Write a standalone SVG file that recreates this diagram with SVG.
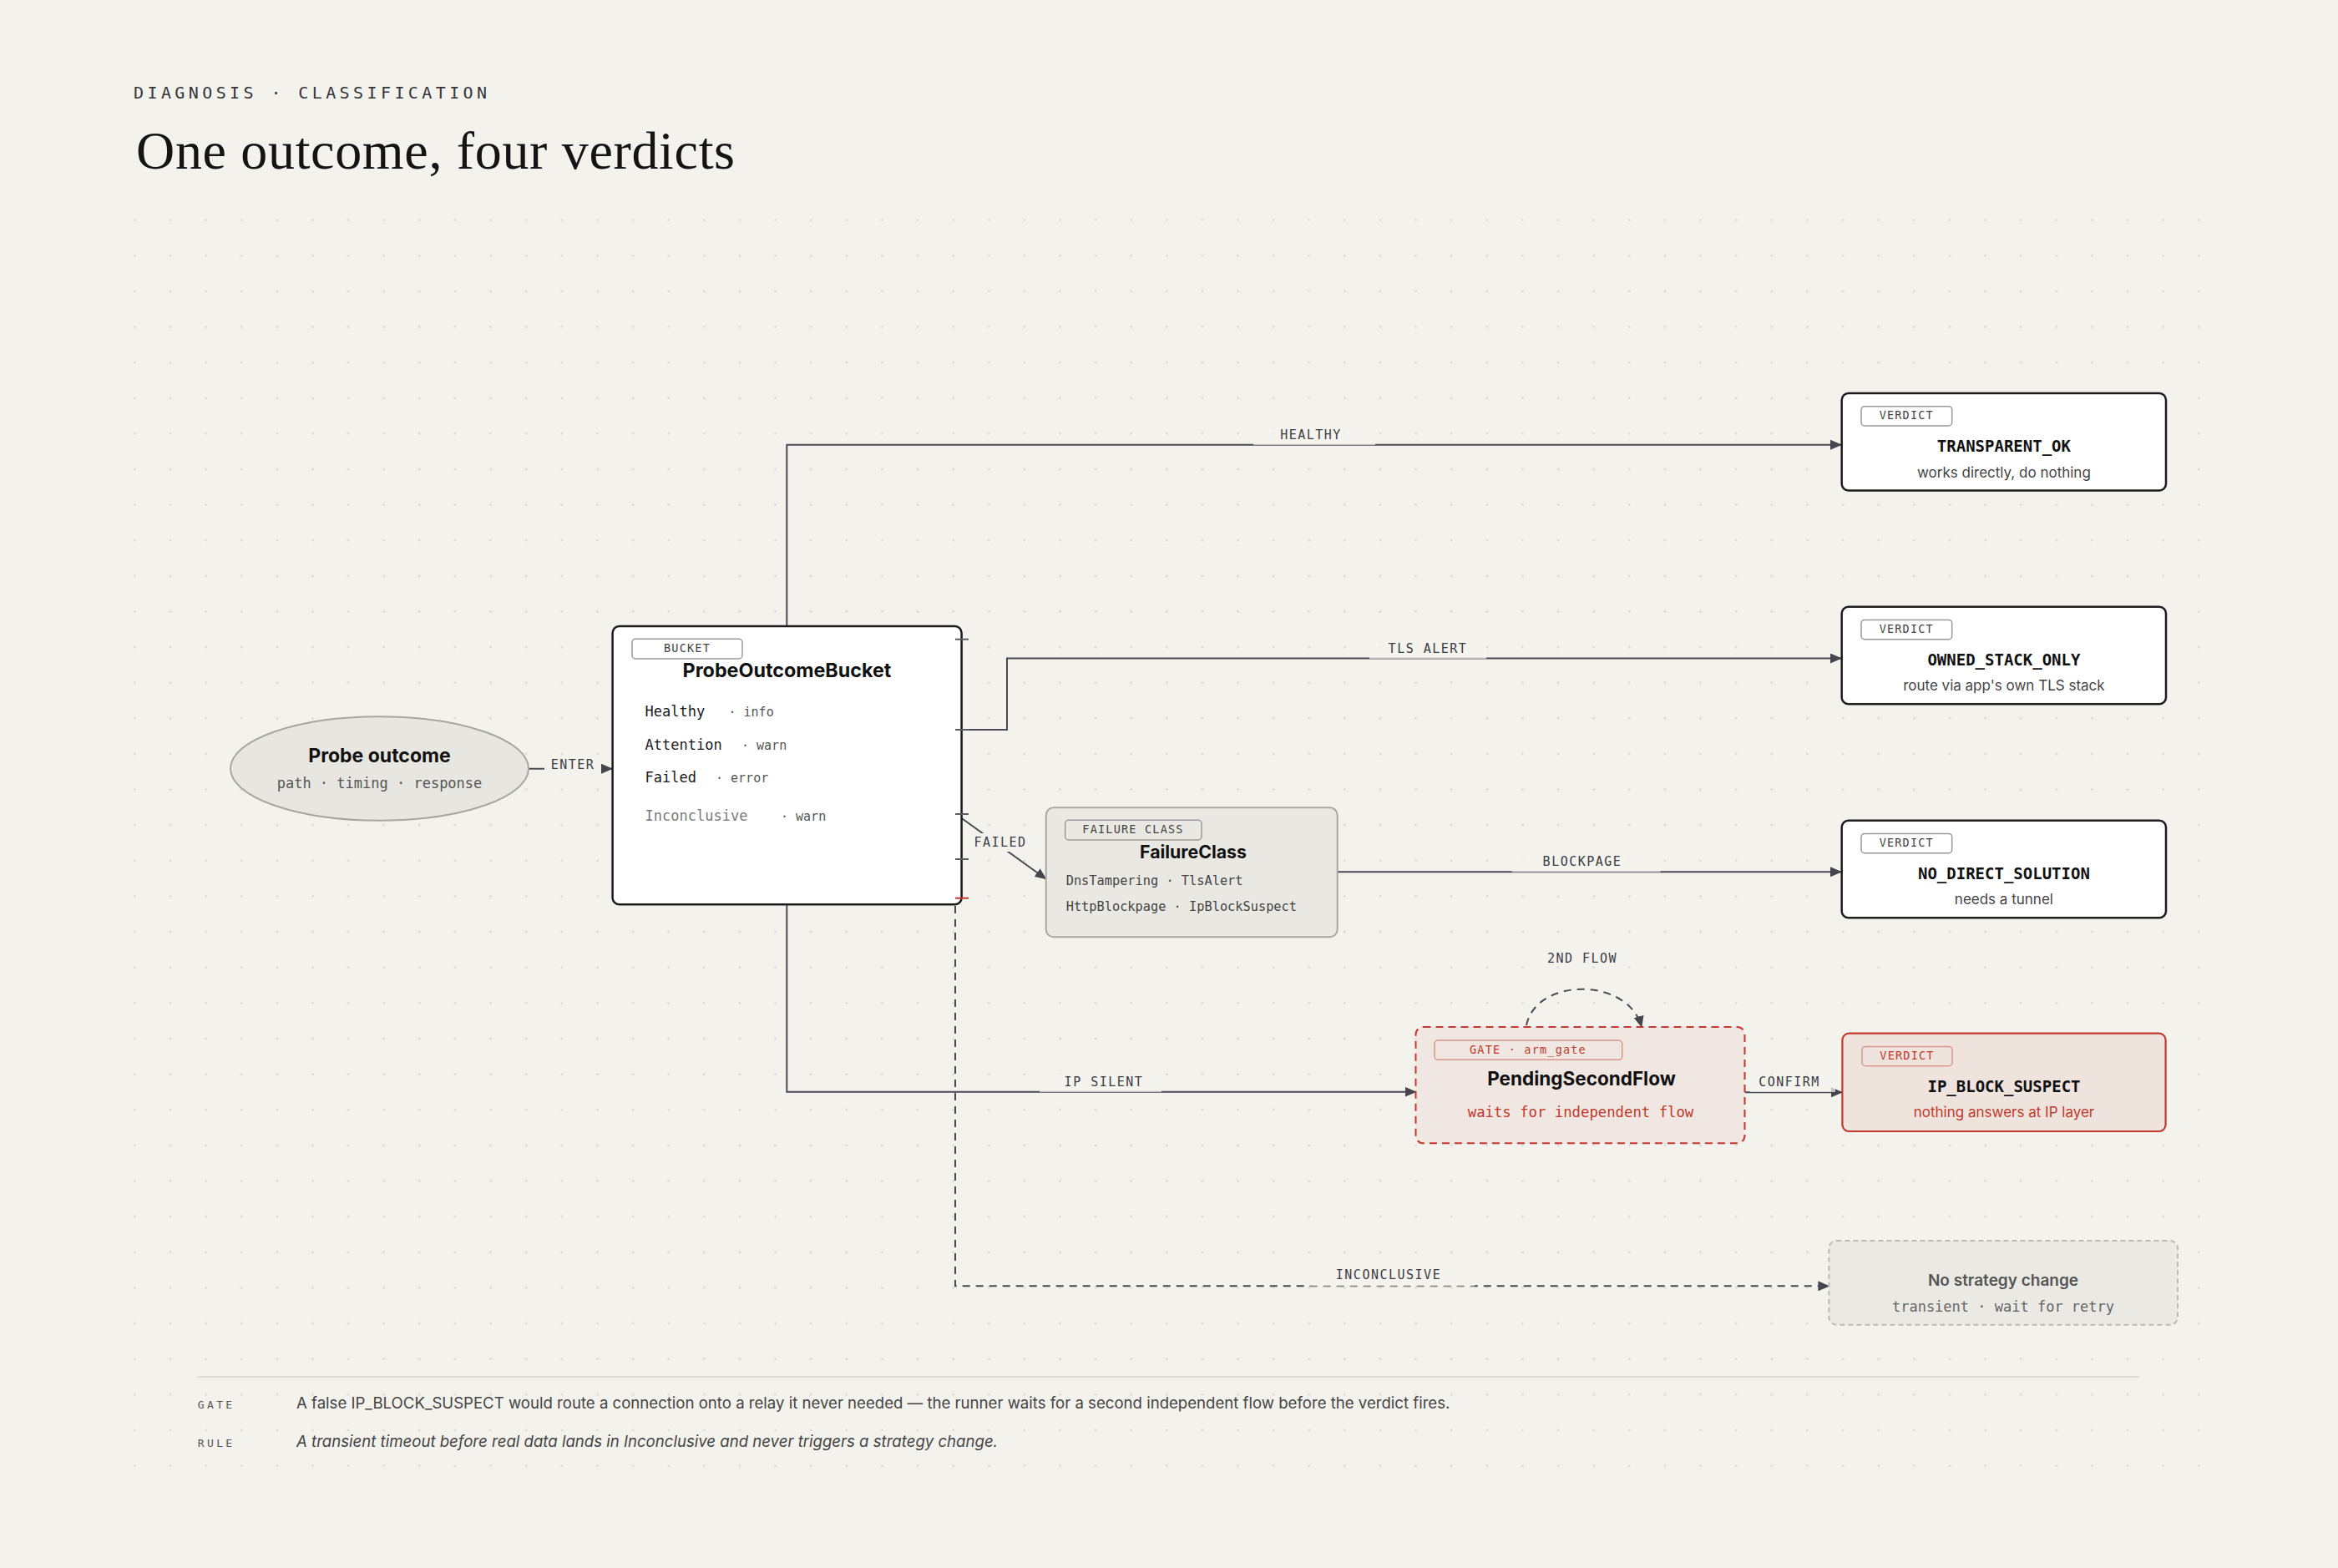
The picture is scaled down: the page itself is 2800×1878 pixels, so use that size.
<svg xmlns="http://www.w3.org/2000/svg" width="2800" height="1878" viewBox="0 0 2800 1878">
<defs>
<pattern id="dots" x="12.2" y="-13.4" width="42.62" height="42.62" patternUnits="userSpaceOnUse"><circle cx="21.31" cy="21.31" r="1.5" fill="#dedbd3"/></pattern>
<marker id="arr" viewBox="0 0 14 12" markerWidth="14" markerHeight="12" refX="13" refY="6" orient="auto" markerUnits="userSpaceOnUse"><path d="M0,0 L14,6 L0,12 z" fill="#45454d"/></marker>
</defs>
<style>
.mono{font-family:"DejaVu Sans Mono","Liberation Mono",monospace}
.sans{font-family:Inter,"Liberation Sans",sans-serif}
.edge{fill:none;stroke:#4a4a52;stroke-width:2}
.dash{stroke-dasharray:9 7}
.lbl{font-family:"DejaVu Sans Mono","Liberation Mono",monospace;font-size:15px;letter-spacing:1.5px;fill:#3c3c44;text-anchor:middle}
.lblbg{fill:#f4f2ed;opacity:.72}
.lblbgs{fill:#f4f2ed}
.tag{fill:none;stroke:#9a9a9a;stroke-width:1.5}
.tagt{font-family:"DejaVu Sans Mono","Liberation Mono",monospace;font-size:13.5px;letter-spacing:1.2px;fill:#444;text-anchor:middle}
.vbox{fill:#fff;stroke:#1c1c1c;stroke-width:2.5}
.vt{font-family:"DejaVu Sans Mono","Liberation Mono",monospace;font-weight:bold;font-size:19px;fill:#111;text-anchor:middle}
.vs{font-family:Inter,"Liberation Sans",sans-serif;font-size:17px;fill:#444;text-anchor:middle}
.ttl{font-family:Inter,"Liberation Sans",sans-serif;font-weight:bold;font-size:22.5px;fill:#111;text-anchor:middle}
.row{font-family:"DejaVu Sans Mono","Liberation Mono",monospace;font-size:17px;fill:#1a1a1a}
.rowmuted{fill:#7a7a7a}
.rtag{font-family:"DejaVu Sans Mono","Liberation Mono",monospace;font-size:15px;fill:#555}
.tick{stroke:#5a5a60;stroke-width:2}
.red{fill:#c0392b}
.foot{font-family:Inter,"Liberation Sans",sans-serif;font-size:18.6px;fill:#444}
.footk{font-family:"DejaVu Sans Mono","Liberation Mono",monospace;font-size:13px;letter-spacing:3.4px;fill:#555}
</style>
<rect width="2800" height="1878" fill="#f4f2ed"/>
<rect x="150" y="250" width="2495" height="1540" fill="url(#dots)"/>

<g id="header">
<text x="160" y="117.7" class="mono" font-size="20" letter-spacing="4.4" fill="#35353b">DIAGNOSIS · CLASSIFICATION</text>
<text x="163" y="201.7" font-family="'Liberation Serif',serif" font-size="64" fill="#141414" textLength="717">One outcome, four verdicts</text>
</g>

<g id="connectors">
<path class="edge" d="M633,920.7 H733" marker-end="url(#arr)"/>
<path class="edge" d="M942.3,750 V532.7 H2205" marker-end="url(#arr)"/>
<path class="edge" d="M1152,874 H1206 V788.5 H2205" marker-end="url(#arr)"/>
<path class="edge" d="M1151.7,980 L1252.7,1052.7" marker-end="url(#arr)"/>
<path class="edge" d="M1601.7,1044.3 H2205" marker-end="url(#arr)"/>
<path class="edge" d="M942.3,1083.3 V1307.7 H1695.5" marker-end="url(#arr)"/>
<path class="edge dash" d="M1828,1228 C1840,1170 1950,1170 1966,1230" marker-end="url(#arr)"/>
<path class="edge" d="M2089.4,1308.3 H2206" marker-end="url(#arr)"/>
<path class="edge dash" d="M1144,1085 V1540.3 H2190.4" marker-end="url(#arr)"/>

<rect class="lblbgs" x="652" y="906" width="68" height="22"/>
<text class="lbl" x="686" y="921">ENTER</text>
<rect class="lblbg" x="1501" y="511" width="146" height="22"/>
<text class="lbl" x="1570" y="526">HEALTHY</text>
<rect class="lblbg" x="1640" y="767" width="140" height="22"/>
<text class="lbl" x="1710" y="782">TLS ALERT</text>
<rect class="lblbgs" x="1163" y="998" width="70" height="22"/>
<text class="lbl" x="1198" y="1014">FAILED</text>
<rect class="lblbg" x="1810.6" y="1022.5" width="178" height="22"/>
<text class="lbl" x="1895" y="1037.3">BLOCKPAGE</text>
<rect class="lblbg" x="1245" y="1286" width="146" height="22"/>
<text class="lbl" x="1322" y="1301">IP SILENT</text>
<text class="lbl" x="1895" y="1153.3">2ND FLOW</text>
<rect class="lblbg" x="2096" y="1286" width="102" height="22"/>
<text class="lbl" x="2143" y="1300.7">CONFIRM</text>
<rect class="lblbg" x="1569.5" y="1518.5" width="196.5" height="22"/>
<text class="lbl" x="1663" y="1532.3">INCONCLUSIVE</text>
</g>

<g id="probe-outcome">
<ellipse cx="454.5" cy="920.5" rx="178.5" ry="62.2" fill="#e8e6e0" stroke="#a8a6a0" stroke-width="2"/>
<text class="ttl" x="454.5" y="912.7" style="font-size:23px">Probe outcome</text>
<text class="mono" x="454.5" y="944" font-size="17" fill="#555" text-anchor="middle">path · timing · response</text>
</g>

<g id="probe-outcome-bucket">
<rect x="733.6" y="750" width="418" height="333.3" rx="8" fill="#fff" stroke="#1c1c1c" stroke-width="2.5"/>
<rect class="tag" x="757" y="765.3" width="132" height="23.7" rx="4"/>
<text class="tagt" x="823" y="781">BUCKET</text>
<text class="ttl" x="942.5" y="811" style="font-size:23.3px">ProbeOutcomeBucket</text>
<text class="row" x="772.6" y="858.3">Healthy</text><text class="rtag" x="872.5" y="858.3">· info</text>
<text class="row" x="772.6" y="898.3">Attention</text><text class="rtag" x="888" y="898.3">· warn</text>
<text class="row" x="772.6" y="936.7">Failed</text><text class="rtag" x="857" y="936.7">· error</text>
<text class="row rowmuted" x="772.6" y="983.3">Inconclusive</text><text class="rtag" x="935" y="983.3">· warn</text>
<line class="tick" x1="1144" y1="765.7" x2="1160" y2="765.7"/>
<line class="tick" x1="1144" y1="874" x2="1160" y2="874"/>
<line class="tick" x1="1144" y1="975" x2="1160" y2="975"/>
<line class="tick" x1="1144" y1="1029" x2="1160" y2="1029"/>
<line x1="1144" y1="1075.7" x2="1160" y2="1075.7" stroke="#c0392b" stroke-width="2"/>
</g>

<g id="failure-class">
<rect x="1252.7" y="967.3" width="349" height="155" rx="9" fill="#eae8e3" stroke="#a9a7a2" stroke-width="2"/>
<rect class="tag" x="1275.7" y="982.3" width="163.3" height="23.7" rx="4"/>
<text class="tagt" x="1357" y="998.3">FAILURE CLASS</text>
<text class="ttl" x="1429" y="1028.3" style="font-size:21.3px">FailureClass</text>
<text class="mono" x="1276.7" y="1060" font-size="15.3" fill="#444">DnsTampering · TlsAlert</text>
<text class="mono" x="1276.7" y="1091" font-size="15.3" fill="#444">HttpBlockpage · IpBlockSuspect</text>
</g>

<g id="transparent-ok">
<rect class="vbox" x="2205.7" y="471" width="388.3" height="116.5" rx="8"/>
<rect class="tag" x="2229" y="486.7" width="108.7" height="23.3" rx="4"/>
<text class="tagt" x="2283.3" y="502.3">VERDICT</text>
<text class="vt" x="2399.9" y="541">TRANSPARENT_OK</text>
<text class="vs" x="2399.9" y="571.7">works directly, do nothing</text>
</g>

<g id="owned-stack-only">
<rect class="vbox" x="2205.7" y="726.7" width="388.3" height="116.5" rx="8"/>
<rect class="tag" x="2229" y="742.4" width="108.7" height="23.3" rx="4"/>
<text class="tagt" x="2283.3" y="758">VERDICT</text>
<text class="vt" x="2399.9" y="796.7">OWNED_STACK_ONLY</text>
<text class="vs" x="2399.9" y="827.4">route via app's own TLS stack</text>
</g>

<g id="no-direct-solution">
<rect class="vbox" x="2205.7" y="982.7" width="388.3" height="116.5" rx="8"/>
<rect class="tag" x="2229" y="998.4" width="108.7" height="23.3" rx="4"/>
<text class="tagt" x="2283.3" y="1014">VERDICT</text>
<text class="vt" x="2399.9" y="1052.7">NO_DIRECT_SOLUTION</text>
<text class="vs" x="2399.9" y="1083.4">needs a tunnel</text>
</g>

<g id="pending-second-flow">
<rect x="1695.5" y="1230" width="394" height="139.3" rx="9" fill="#f1e7e2" stroke="#c0392b" stroke-width="2" stroke-dasharray="9 6"/>
<rect x="1718" y="1246" width="224.7" height="23.3" rx="4" fill="none" stroke="#d9968b" stroke-width="1.5"/>
<text class="tagt red" x="1830" y="1261.7">GATE · arm_gate</text>
<text class="ttl" x="1894" y="1300">PendingSecondFlow</text>
<text class="mono red" x="1893" y="1338.3" font-size="17.3" text-anchor="middle">waits for independent flow</text>
</g>

<g id="ip-block-suspect">
<rect x="2206.4" y="1237.7" width="387.2" height="117.3" rx="8" fill="#efe3de" stroke="#c0392b" stroke-width="2.2"/>
<rect x="2230" y="1253.4" width="108" height="23.3" rx="4" fill="none" stroke="#d9968b" stroke-width="1.5"/>
<text class="tagt red" x="2284" y="1269">VERDICT</text>
<text class="vt" x="2400" y="1307.7">IP_BLOCK_SUSPECT</text>
<text class="vs red" x="2400" y="1338.4">nothing answers at IP layer</text>
</g>

<g id="no-strategy-change">
<rect x="2190.4" y="1486" width="417.6" height="100.7" rx="9" fill="#ebe9e4" stroke="#bcbab5" stroke-width="2" stroke-dasharray="6 4"/>
<text class="sans" x="2399" y="1540" font-size="19" font-weight="600" fill="#555" text-anchor="middle">No strategy change</text>
<text class="mono" x="2399" y="1571" font-size="17" fill="#666" text-anchor="middle">transient · wait for retry</text>
</g>

<g id="footer">
<line x1="236.7" y1="1649" x2="2562" y2="1649" stroke="#dddad3" stroke-width="2"/>
<text class="footk" x="236.7" y="1686.7">GATE</text>
<text class="foot" x="355" y="1686.7">A false IP_BLOCK_SUSPECT would route a connection onto a relay it never needed — the runner waits for a second independent flow before the verdict fires.</text>
<text class="footk" x="236.7" y="1733.3">RULE</text>
<text class="foot" x="355" y="1733.3" font-style="italic">A transient timeout before real data lands in Inconclusive and never triggers a strategy change.</text>
</g>
</svg>
